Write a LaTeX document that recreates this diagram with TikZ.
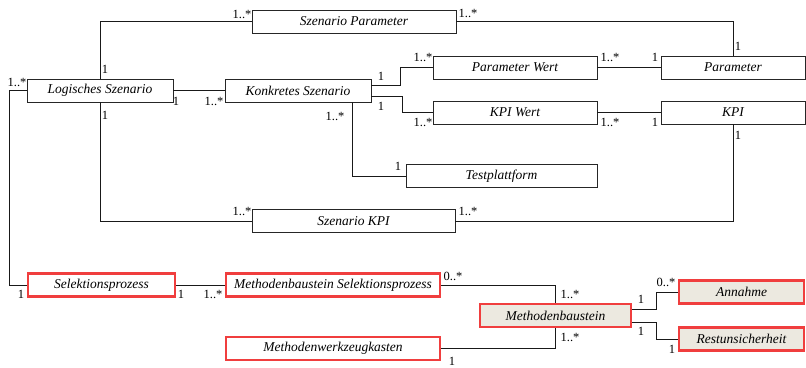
\documentclass[tikz,border=0pt]{standalone}
\usepackage{fontspec}
\setmainfont{Liberation Serif}
\usetikzlibrary{positioning}
\definecolor{rahmenrot}{RGB}{240,62,62}
\definecolor{baustein}{RGB}{236,233,224}

\begin{document}
\begin{tikzpicture}[x=1pt,y=-1pt,
  klasse/.style={draw=black!85,line width=0.9pt,minimum height=23pt,inner sep=0pt,
                 font=\fontsize{13.5}{15}\selectfont\itshape},
  neu/.style={klasse,draw=rahmenrot,line width=2.2pt},
  kern/.style={neu,fill=baustein},
  mult/.style={inner sep=0pt,font=\fontsize{12.5}{14}\selectfont},
  assoc/.style={line width=0.8pt,black!90}]
\useasboundingbox (0,0) rectangle (806,367);
\node[klasse,minimum width=204pt] (szparam) at (354,21.5) {Szenario Parameter};
\node[klasse,minimum width=146pt] (logisch) at (100,90.5) {Logisches Szenario};
\node[klasse,minimum width=146pt] (konkret) at (298,90.5) {Konkretes Szenario};
\node[klasse,minimum width=164pt] (pwert) at (515,67.5) {Parameter Wert};
\node[klasse,minimum width=144pt] (param) at (733,67.5) {Parameter};
\node[klasse,minimum width=164pt] (kpiwert) at (515,112.5) {KPI Wert};
\node[klasse,minimum width=144pt] (kpi) at (733,112.5) {KPI};
\node[klasse,minimum width=191pt] (testpl) at (501.5,176) {Testplattform};
\node[klasse,minimum width=203pt] (szkpi) at (353.5,221) {Szenario KPI};
\node[neu,minimum width=147pt] (selekt) at (101.5,285) {Selektionsprozess};
\node[neu,minimum width=214pt] (mbselekt) at (333,285) {Methodenbaustein Selektionsprozess};
\node[neu,minimum width=214pt] (werkzeug) at (333,348.5) {Methodenwerkzeugkasten};
\node[kern,minimum width=151pt] (baust) at (555.5,315.5) {Methodenbaustein};
\node[kern,minimum width=125pt] (annahme) at (741.5,292) {Annahme};
\node[kern,minimum width=125pt] (restu) at (741.5,339) {Restunsicherheit};

\draw[assoc] (logisch.north) |- (szparam.west);
\draw[assoc] (szparam.east) -| (param.north);
\draw[assoc] (logisch.east) -- (konkret.west);
\draw[assoc] ([yshift=5.5pt]konkret.east) -- +(29,0) |- (pwert.west);
\draw[assoc] ([yshift=-5.5pt]konkret.east) -- +(31,0) |- (kpiwert.west);
\draw[assoc] (pwert.east) -- (param.west);
\draw[assoc] (kpiwert.east) -- (kpi.west);
\draw[assoc] ([xshift=54pt]konkret.south) |- (testpl.west);
\draw[assoc] (logisch.south) |- (szkpi.west);
\draw[assoc] (kpi.south) |- (szkpi.east);
\draw[assoc] (logisch.west) -- +(-17,0) |- (selekt.west);
\draw[assoc] (selekt.east) -- (mbselekt.west);
\draw[assoc] (mbselekt.east) -| (baust.north);
\draw[assoc] (werkzeug.east) -| (baust.south);
\draw[assoc] ([yshift=6.5pt]baust.east) -- +(24,0) |- (annahme.west);
\draw[assoc] ([yshift=-6.5pt]baust.east) -- +(24,0) |- (restu.west);

\node[mult] (m1) at (242,14) {1..*};
\node[mult] (m2) at (105,69) {1};
\node[mult] (m3) at (468,13) {1..*};
\node[mult] (m4) at (738,46) {1};
\node[mult] (m5) at (17,82) {1..*};
\node[mult] (m6) at (176,101) {1};
\node[mult] (m7) at (214,101) {1..*};
\node[mult] (m8) at (105,115) {1};
\node[mult] (m9) at (335,116) {1..*};
\node[mult] (m10) at (381,76) {1};
\node[mult] (m11) at (381,106) {1};
\node[mult] (m12) at (398,166) {1};
\node[mult] (m13) at (423,57) {1..*};
\node[mult] (m14) at (610,57) {1..*};
\node[mult] (m15) at (655,57) {1};
\node[mult] (m16) at (423,122) {1..*};
\node[mult] (m17) at (610,122) {1..*};
\node[mult] (m18) at (655,122) {1};
\node[mult] (m19) at (738,135) {1};
\node[mult] (m20) at (242,211) {1..*};
\node[mult] (m21) at (468,211) {1..*};
\node[mult] (m22) at (21,294) {1};
\node[mult] (m23) at (181,294) {1};
\node[mult] (m24) at (213,294) {1..*};
\node[mult] (m25) at (453,276) {0..*};
\node[mult] (m26) at (570,294) {1..*};
\node[mult] (m27) at (570,337) {1..*};
\node[mult] (m28) at (452,361) {1};
\node[mult] (m29) at (641,299) {1};
\node[mult] (m30) at (641,331) {1};
\node[mult] (m31) at (666,282) {0..*};
\node[mult] (m32) at (672,349) {1};
\end{tikzpicture}
\end{document}
